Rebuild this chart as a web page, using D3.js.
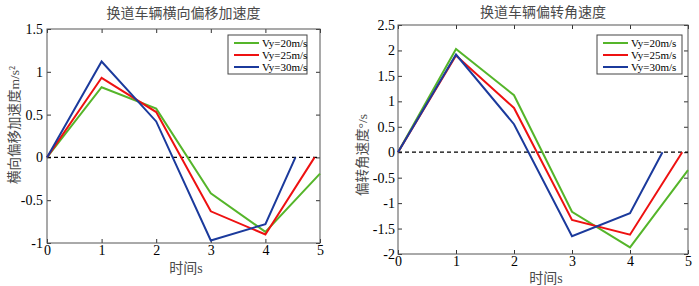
<!DOCTYPE html>
<html>
<head>
<meta charset="utf-8">
<script src="https://cdn.jsdelivr.net/npm/d3@7"></script>
<style>
  body { margin: 0; background: #fff; }
  svg { display: block; }
  .tick text { font-family: "Liberation Serif", "Times New Roman", serif; font-size: 14px; fill: #000; }
  .tick line { stroke: #333; }
  .cjk { font-family: "Liberation Serif", "Noto Sans CJK SC", serif; fill: #4a4a4a; }
  .legend text { font-family: "Liberation Serif", serif; font-size: 11px; fill: #000; }
</style>
</head>
<body>
<svg width="699" height="286"></svg>
<script>
  // time axis shared by both panels
  const timeTicks = [0, 1, 2, 3, 4, 5];
  const legendLabels = ["Vy=20m/s", "Vy=25m/s", "Vy=30m/s"];
  const seriesColors = ["#55b52a", "#ee1111", "#1b3a9c"];

  // lateral acceleration (m/s^2)
  const latTicks = [-1, -0.5, 0, 0.5, 1, 1.5];
  const latT20 = [0, 1, 2, 3, 4, 5];
  const latA20 = [0, 0.82, 0.57, -0.42, -0.87, -0.19];
  const latT25 = [0, 1, 2, 3, 4, 4.9];
  const latA25 = [0, 0.93, 0.53, -0.63, -0.9, 0];
  const latT30 = [0, 1, 2, 3, 4, 4.55];
  const latA30 = [0, 1.12, 0.42, -0.97, -0.78, 0];

  // yaw rate (deg/s)
  const yawTicks = [-2, -1.5, -1, -0.5, 0, 0.5, 1, 1.5, 2, 2.5];
  const yawT20 = [0, 1, 2, 3, 4, 5];
  const yawR20 = [0, 2.03, 1.12, -1.17, -1.87, -0.35];
  const yawT25 = [0, 1, 2, 3, 4, 4.9];
  const yawR25 = [0, 1.9, 0.87, -1.33, -1.62, 0];
  const yawT30 = [0, 1, 2, 3, 4, 4.56];
  const yawR30 = [0, 1.92, 0.55, -1.65, -1.2, 0];

  const svg = d3.select("svg");
  svg.append("rect").attr("width", 699).attr("height", 286).attr("fill", "#fff");

  const zip = (xs, ys) => xs.map((x, i) => ({ x, y: ys[i] }));

  const drawPanel = (cfg) => {
    const innerWidth = cfg.x1 - cfg.x0;
    const innerHeight = cfg.y1 - cfg.y0;

    const xScale = d3.scaleLinear().domain([0, 5]).range([0, innerWidth]);
    const yScale = d3
      .scaleLinear()
      .domain(d3.extent(cfg.yTicks))
      .range([innerHeight, 0]);

    const g = svg.append("g").attr("transform", `translate(${cfg.x0},${cfg.y0})`);

    const fmt = (d) => String(d);

    const xAxisG = g
      .append("g")
      .attr("transform", `translate(0,${innerHeight})`)
      .call(d3.axisBottom(xScale).tickValues(timeTicks).tickFormat(fmt).tickSize(-4).tickPadding(2));
    xAxisG.select(".domain").remove();

    const xTopG = g
      .append("g")
      .call(d3.axisTop(xScale).tickValues(timeTicks).tickFormat("").tickSize(-4));
    xTopG.select(".domain").remove();

    const yAxisG = g
      .append("g")
      .call(d3.axisLeft(yScale).tickValues(cfg.yTicks).tickFormat(fmt).tickSize(-4).tickPadding(cfg.yPad));
    yAxisG.select(".domain").remove();

    const yRightG = g
      .append("g")
      .attr("transform", `translate(${innerWidth},0)`)
      .call(d3.axisRight(yScale).tickValues(cfg.yTicks).tickFormat("").tickSize(-4));
    yRightG.select(".domain").remove();

    g.append("rect")
      .attr("width", innerWidth)
      .attr("height", innerHeight)
      .attr("fill", "none")
      .attr("stroke", "#555")
      .attr("stroke-width", 1);

    // zero reference line
    g.append("line")
      .attr("x1", 0)
      .attr("x2", innerWidth)
      .attr("y1", yScale(0))
      .attr("y2", yScale(0))
      .attr("stroke", "#000")
      .attr("stroke-width", 1.3)
      .attr("stroke-dasharray", "4,3");

    const lineGenerator = d3
      .line()
      .x((d) => xScale(d.x))
      .y((d) => yScale(d.y));

    cfg.series.forEach((s, i) => {
      g.append("path")
        .attr("d", lineGenerator(s))
        .attr("fill", "none")
        .attr("stroke", seriesColors[i])
        .attr("stroke-width", 2);
    });

    // legend
    const lg = g
      .append("g")
      .attr("class", "legend")
      .attr("transform", `translate(${cfg.legendX - cfg.x0},${cfg.legendY - cfg.y0})`);
    lg.append("rect")
      .attr("width", cfg.legendW)
      .attr("height", 39)
      .attr("fill", "#fff")
      .attr("stroke", "#444");
    legendLabels.forEach((label, i) => {
      const yy = 8 + i * 12;
      lg.append("line")
        .attr("x1", 6)
        .attr("x2", 31)
        .attr("y1", yy)
        .attr("y2", yy)
        .attr("stroke", seriesColors[i])
        .attr("stroke-width", 2);
      lg.append("text").attr("x", 34).attr("y", yy + 4).text(label);
    });

    // titles and axis labels
    svg.append("text")
      .attr("class", "cjk")
      .attr("x", (cfg.x0 + cfg.x1) / 2)
      .attr("y", cfg.titleY)
      .attr("text-anchor", "middle")
      .attr("font-size", 14)
      .text(cfg.title);

    svg.append("text")
      .attr("class", "cjk")
      .attr("x", cfg.xLabelX)
      .attr("y", cfg.xLabelY)
      .attr("text-anchor", "middle")
      .attr("font-size", 14)
      .text("时间s");

    svg.append("text")
      .attr("class", "cjk")
      .attr("transform", `translate(${cfg.yLabelX},${cfg.yLabelY}) rotate(-90)`)
      .attr("text-anchor", "middle")
      .attr("font-size", 13.5)
      .text(cfg.yLabel);
  };

  drawPanel({
    x0: 47, x1: 320, y0: 29, y1: 243,
    yTicks: latTicks, yPad: 4,
    series: [zip(latT20, latA20), zip(latT25, latA25), zip(latT30, latA30)],
    legendX: 228, legendY: 35, legendW: 79,
    title: "换道车辆横向偏移加速度", titleY: 18,
    xLabelX: 186, xLabelY: 273,
    yLabelX: 19, yLabelY: 125,
    yLabel: "横向偏移加速度m/s²",
  });

  drawPanel({
    x0: 398, x1: 688, y0: 25, y1: 254,
    yTicks: yawTicks, yPad: 3,
    series: [zip(yawT20, yawR20), zip(yawT25, yawR25), zip(yawT30, yawR30)],
    legendX: 597, legendY: 35, legendW: 85,
    title: "换道车辆偏转角速度", titleY: 17,
    xLabelX: 546, xLabelY: 283,
    yLabelX: 367, yLabelY: 155,
    yLabel: "偏转角速度°/s",
  });
</script>
</body>
</html>
